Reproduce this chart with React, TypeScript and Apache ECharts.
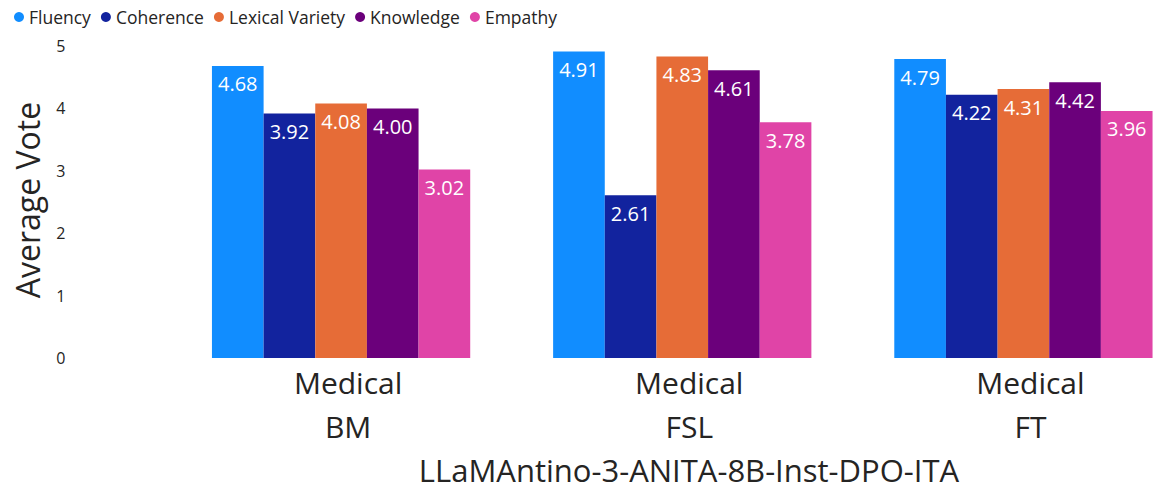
import React, { useEffect, useRef } from "react";
import * as echarts from "echarts";

const categories = ["Medical\nBM", "Medical\nFSL", "Medical\nFT"];
const fluency = [4.68, 4.91, 4.79];
const coherence = [3.92, 2.61, 4.22];
const lexicalVariety = [4.08, 4.83, 4.31];
const knowledge = [4.0, 4.61, 4.42];
const empathy = [3.02, 3.78, 3.96];
const yTicks = [0, 1, 2, 3, 4, 5];

const seriesDefs = [
  { name: "Fluency", data: fluency, color: "#118DFF" },
  { name: "Coherence", data: coherence, color: "#12239E" },
  { name: "Lexical Variety", data: lexicalVariety, color: "#E66C37" },
  { name: "Knowledge", data: knowledge, color: "#6B007B" },
  { name: "Empathy", data: empathy, color: "#E044A7" },
];

const FONT = "'Segoe UI', 'Open Sans', 'Noto Sans', sans-serif";

// The plot runs past the right edge of the visible frame, so the chart canvas
// is wider than the viewport and the outer box clips it.
const VIEW_W = 1154;
const VIEW_H = 493;
const CHART_W = 1194;

export default function App() {
  const ref = useRef<HTMLDivElement>(null);

  useEffect(() => {
    if (!ref.current) return;
    const chart = echarts.init(ref.current, undefined, { renderer: "svg" });
    chart.setOption({
      animation: false,
      textStyle: { fontFamily: FONT },
      legend: {
        left: 9,
        top: 3,
        icon: "circle",
        itemWidth: 10,
        itemHeight: 10,
        itemGap: 10,
        textStyle: { fontSize: 17.5, color: "#252423", fontFamily: FONT },
        data: seriesDefs.map((s) => s.name),
      },
      grid: { left: 170.5, right: 0, top: 46, bottom: 135, containLabel: false },
      xAxis: {
        type: "category",
        data: categories,
        axisLine: { show: false },
        axisTick: { show: false },
        axisLabel: {
          fontSize: 30,
          lineHeight: 44,
          color: "#252423",
          margin: 2,
          padding: [0, 0, 0, 14],
          fontFamily: FONT,
        },
      },
      yAxis: {
        type: "value",
        min: yTicks[0],
        max: yTicks[yTicks.length - 1],
        interval: 1,
        splitLine: { show: false },
        axisLine: { show: false },
        axisTick: { show: false },
        axisLabel: { fontSize: 16, color: "#252423", margin: 105, fontFamily: FONT },
      },
      graphic: [
        {
          type: "text",
          x: 27,
          y: 200,
          rotation: Math.PI / 2,
          style: {
            text: "Average Vote",
            fontSize: 32,
            fill: "#252423",
            fontFamily: FONT,
            align: "center",
            verticalAlign: "middle",
          },
        },
        {
          type: "text",
          x: 689,
          y: 470,
          style: {
            text: "LLaMAntino-3-ANITA-8B-Inst-DPO-ITA",
            fontSize: 31,
            fill: "#252423",
            fontFamily: FONT,
            align: "center",
            verticalAlign: "middle",
          },
        },
      ],
      series: seriesDefs.map((s) => ({
        name: s.name,
        type: "bar",
        data: s.data,
        barGap: "0%",
        barCategoryGap: "24.3%",
        itemStyle: { color: s.color },
        label: {
          show: true,
          position: "insideTop",
          distance: 8,
          color: "#FFFFFF",
          fontSize: 20,
          fontFamily: FONT,
          formatter: (p: any) => Number(p.value).toFixed(2),
        },
      })),
    });
    return () => chart.dispose();
  }, []);

  return (
    <div
      style={{
        position: "fixed",
        left: 0,
        top: 0,
        width: VIEW_W,
        height: VIEW_H,
        overflow: "hidden",
        background: "#fff",
      }}
    >
      <div ref={ref} style={{ width: CHART_W, height: VIEW_H }} />
    </div>
  );
}
